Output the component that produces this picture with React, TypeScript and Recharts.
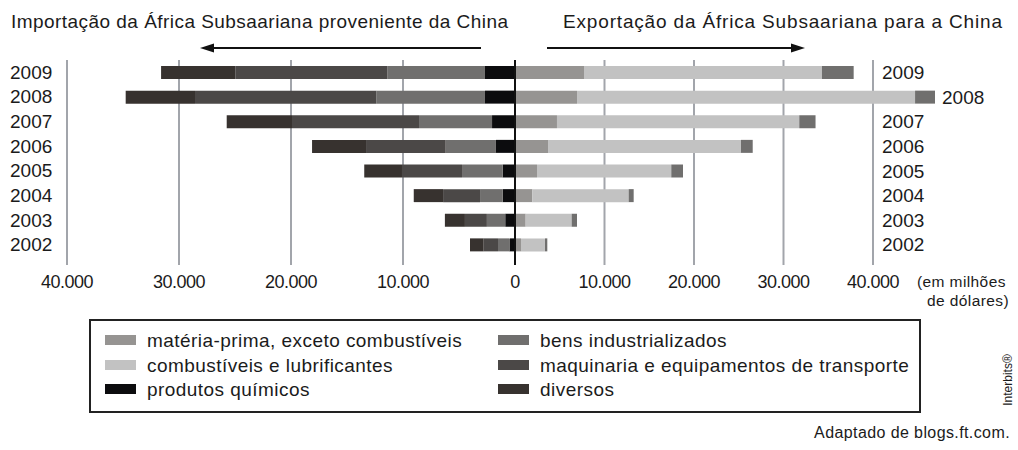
import React from "react";
import {
  Bar,
  BarChart,
  CartesianGrid,
  LabelList,
  ReferenceLine,
  XAxis,
  YAxis,
} from "recharts";

const years = ["2009", "2008", "2007", "2006", "2005", "2004", "2003", "2002"];

// importação da África Subsaariana proveniente da China (milhões de dólares)
const impQuimicos = [2680, 2680, 2050, 1700, 1100, 1100, 870, 450];
const impBens = [8720, 9700, 6520, 4490, 3630, 2020, 1640, 1070];
const impMaquinaria = [13570, 16190, 11340, 7110, 5360, 3300, 1960, 1280];
const impDiversos = [6630, 6190, 5830, 4820, 3370, 2620, 1790, 1220];

// exportação da África Subsaariana para a China (milhões de dólares)
const expMateria = [7710, 6930, 4690, 3690, 2460, 1940, 1190, 670];
const expCombustiveis = [26590, 37770, 27070, 21560, 15000, 10760, 5140, 2680];
const expBens = [3540, 2230, 1820, 1310, 1310, 560, 600, 260];

const leftTicks = [-40000, -30000, -20000, -10000];
const rightTicks = [0, 10000, 20000, 30000, 40000];

const COLORS = {
  materia: "#969492",
  combustiveis: "#c2c2c2",
  quimicos: "#0c0c0e",
  bens: "#706f6e",
  maquinaria: "#4b4847",
  diversos: "#37322f",
};

const legendItems = [
  { name: "matéria-prima, exceto combustíveis", color: COLORS.materia },
  { name: "bens industrializados", color: COLORS.bens },
  { name: "combustíveis e lubrificantes", color: COLORS.combustiveis },
  { name: "maquinaria e equipamentos de transporte", color: COLORS.maquinaria },
  { name: "produtos químicos", color: COLORS.quimicos },
  { name: "diversos", color: COLORS.diversos },
];

const leftData = years.map((year, i) => ({
  year,
  quimicos: -impQuimicos[i],
  bens: -impBens[i],
  maquinaria: -impMaquinaria[i],
  diversos: -impDiversos[i],
}));

const rightData = years.map((year, i) => ({
  year,
  materia: expMateria[i],
  combustiveis: expCombustiveis[i],
  bens: expBens[i],
}));

const FONT = "'Liberation Sans', Arial, sans-serif";
const TEXT = "#1b1b1b";
const GRID = "#a2a5ab";

// layout
const CHART_H = 300;
const TOP = 60;
const X_AXIS_H = 43;
const LEFT_W = 515;
const RIGHT_X = 505;
const RIGHT_W = 513;
const RIGHT_ML = 10;
const RIGHT_MR = 60;
const RIGHT_PX_40K = 358; // right half is drawn at a smaller scale than the left
const RIGHT_MAX = (40000 * (RIGHT_W - RIGHT_ML - RIGHT_MR)) / RIGHT_PX_40K;

const fmt = (v: number) =>
  String(Math.abs(v)).replace(/\B(?=(\d{3})+(?!\d))/g, ".");

const AxisTick = (props: any) => {
  const { x, y, payload } = props;
  const zero = payload.value === 0;
  return (
    <g>
      <line
        x1={x}
        x2={x}
        y1={y - 10}
        y2={y - 2}
        stroke={zero ? "#111" : GRID}
        strokeWidth={2}
      />
      <text
        x={x}
        y={y + 15}
        textAnchor="middle"
        dominantBaseline="central"
        fontSize={18}
        letterSpacing={-0.5}
        fill={TEXT}
        fontFamily={FONT}
      >
        {fmt(payload.value)}
      </text>
    </g>
  );
};

const YearTick = (props: any) => {
  const { y, payload } = props;
  return (
    <text
      x={10}
      y={y}
      dominantBaseline="central"
      fontSize={19}
      fill={TEXT}
      fontFamily={FONT}
    >
      {payload.value}
    </text>
  );
};

const renderRightYear = (props: any) => {
  const vb = props.viewBox || {};
  const x = Number(props.x ?? vb.x);
  const y = Number(props.y ?? vb.y);
  const width = Number(props.width ?? vb.width);
  const height = Number(props.height ?? vb.height);
  const at40k = RIGHT_ML + RIGHT_PX_40K;
  const lx = Math.max(at40k + 9, x + width + 7);
  return (
    <text
      x={lx}
      y={y + height / 2}
      dominantBaseline="central"
      fontSize={19}
      fill={TEXT}
      fontFamily={FONT}
    >
      {props.value}
    </text>
  );
};

// grid lines only at the ticks, never at the plot edges
const gridAt = (ticks: number[], min: number, max: number) => (args: any) => {
  const { offset } = args;
  return ticks.map((t) => offset.left + ((t - min) / (max - min)) * offset.width);
};

const Overlay = () => {
  const rows = [340, 365, 389];
  const cols = [105, 498];
  return (
    <svg
      width={1018}
      height={450}
      style={{ position: "absolute", left: 0, top: 0 }}
      fontFamily={FONT}
    >
      <text x={11} y={28} fontSize={19} textLength={497} lengthAdjust="spacing" fill={TEXT}>
        Importação da África Subsaariana proveniente da China
      </text>
      <text x={563} y={28} fontSize={19} textLength={439} lengthAdjust="spacing" fill={TEXT}>
        Exportação da África Subsaariana para a China
      </text>
      <line x1={481} x2={212} y1={48} y2={48} stroke="#111" strokeWidth={2} />
      <polygon points="200,48 214,43.5 214,52.5" fill="#111" />
      <line x1={547} x2={793} y1={48} y2={48} stroke="#111" strokeWidth={2} />
      <polygon points="805,48 791,43.5 791,52.5" fill="#111" />

      <text x={917} y={281} dominantBaseline="central" fontSize={15.5} letterSpacing={0.4} fill={TEXT}>
        (em milhões
      </text>
      <text x={927} y={300} dominantBaseline="central" fontSize={15.5} letterSpacing={0.4} fill={TEXT}>
        de dólares)
      </text>

      <rect x={90} y={320} width={830} height={92} fill="none" stroke="#222" strokeWidth={2} />
      {legendItems.map((item, i) => {
        const cx = cols[i % 2];
        const cy = rows[Math.floor(i / 2)];
        return (
          <g key={item.name}>
            <rect x={cx} y={cy - 5} width={31} height={10} fill={item.color} />
            <text
              x={cx + 42}
              y={cy}
              dominantBaseline="central"
              fontSize={19}
              letterSpacing={0.45}
              fill={TEXT}
            >
              {item.name}
            </text>
          </g>
        );
      })}

      <text
        transform="translate(1012,380) rotate(-90)"
        textAnchor="middle"
        fontSize={12}
        fill={TEXT}
      >
        Interbits®
      </text>
      <text
        x={1010}
        y={432}
        textAnchor="end"
        dominantBaseline="central"
        fontSize={16}
        letterSpacing={0.4}
        fill={TEXT}
      >
        Adaptado de blogs.ft.com.
      </text>
    </svg>
  );
};

export default function App() {
  return (
    <div
      style={{
        position: "absolute",
        left: 0,
        top: 0,
        width: 1018,
        height: 450,
        background: "#fff",
        fontFamily: FONT,
      }}
    >
      <Overlay />
      <div style={{ position: "absolute", left: 0, top: 0 }}>
        <BarChart
          width={LEFT_W}
          height={CHART_H}
          data={leftData}
          layout="vertical"
          margin={{ top: TOP, right: 0, left: 0, bottom: 0 }}
          barSize={13}
        >
          <CartesianGrid
            horizontal={false}
            stroke={GRID}
            strokeWidth={2}
            verticalCoordinatesGenerator={gridAt(leftTicks, -40000, 0)}
          />
          <XAxis
            type="number"
            domain={[-40000, 0]}
            ticks={leftTicks}
            allowDataOverflow
            axisLine={false}
            tickLine={false}
            tickSize={8}
            height={X_AXIS_H}
            tick={<AxisTick />}
            interval={0}
          />
          <YAxis
            type="category"
            dataKey="year"
            width={67}
            axisLine={false}
            tickLine={false}
            tick={<YearTick />}
            interval={0}
          />
          <Bar dataKey="quimicos" stackId="imp" fill={COLORS.quimicos} isAnimationActive={false} />
          <Bar dataKey="bens" stackId="imp" fill={COLORS.bens} isAnimationActive={false} />
          <Bar dataKey="maquinaria" stackId="imp" fill={COLORS.maquinaria} isAnimationActive={false} />
          <Bar dataKey="diversos" stackId="imp" fill={COLORS.diversos} isAnimationActive={false} />
        </BarChart>
      </div>
      <div style={{ position: "absolute", left: RIGHT_X, top: 0 }}>
        <BarChart
          width={RIGHT_W}
          height={CHART_H}
          data={rightData}
          layout="vertical"
          margin={{ top: TOP, right: RIGHT_MR, left: RIGHT_ML, bottom: 0 }}
          barSize={13}
        >
          <CartesianGrid
            horizontal={false}
            stroke={GRID}
            strokeWidth={2}
            verticalCoordinatesGenerator={gridAt(rightTicks, 0, RIGHT_MAX)}
          />
          <XAxis
            type="number"
            domain={[0, RIGHT_MAX]}
            ticks={rightTicks}
            allowDataOverflow
            axisLine={false}
            tickLine={false}
            tickSize={8}
            height={X_AXIS_H}
            tick={<AxisTick />}
            interval={0}
          />
          <YAxis type="category" dataKey="year" hide width={0} />
          <Bar dataKey="materia" stackId="exp" fill={COLORS.materia} isAnimationActive={false} />
          <Bar dataKey="combustiveis" stackId="exp" fill={COLORS.combustiveis} isAnimationActive={false} />
          <Bar dataKey="bens" stackId="exp" fill={COLORS.bens} isAnimationActive={false}>
            <LabelList dataKey="year" content={renderRightYear} />
          </Bar>
          <ReferenceLine x={0} stroke="#111" strokeWidth={2} />
        </BarChart>
      </div>
    </div>
  );
}
